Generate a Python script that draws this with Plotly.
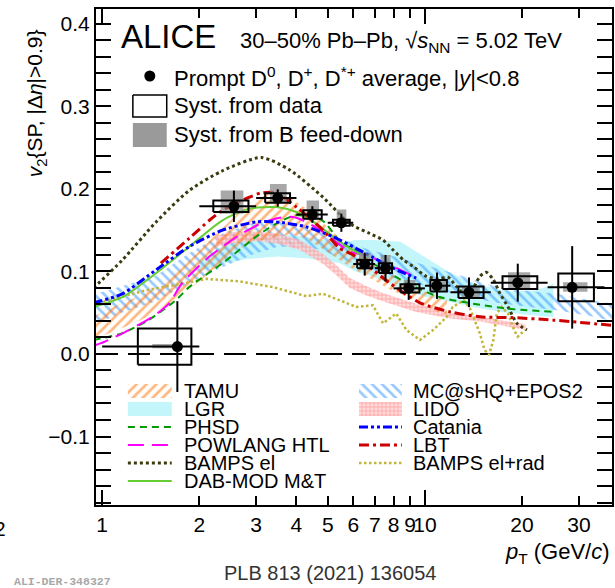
import math
import plotly.graph_objects as go

# ---------------- measured data (ALICE prompt D v2, 30-50%) ----------------
pt = [1.71, 2.56, 3.50, 4.48, 5.51, 6.51, 7.55, 8.91, 10.9, 13.7, 19.4, 28.6]
v2 = [0.009, 0.179, 0.189, 0.169, 0.159, 0.109, 0.104, 0.0795, 0.0827, 0.0747, 0.0864, 0.0807]
stat = [0.055, 0.019, 0.0105, 0.010, 0.011, 0.014, 0.016, 0.014, 0.016, 0.018, 0.023, 0.050]
bin_lo = [1, 2, 3, 4, 5, 6, 7, 8, 10, 12, 16, 24]
bin_hi = [2, 3, 4, 5, 6, 7, 8, 10, 12, 16, 24, 36]
syst = [0.022, 0.007, 0.0057, 0.0052, 0.0036, 0.005, 0.006, 0.005, 0.007, 0.007, 0.0077, 0.0168]
box_lo = [1.29, 2.21, 3.20, 4.20, 5.19, 6.17, 7.20, 8.40, 10.4, 12.7, 17.4, 25.9]
box_hi = [1.89, 2.84, 3.82, 4.79, 5.85, 6.87, 7.91, 9.62, 11.7, 15.2, 22.3, 33.4]
fd_xlo = [1.43, 2.33, 3.31, 4.30, 5.33, 6.25, 7.29, 8.60, 10.5, 13.0, 18.1, 26.8]
fd_xhi = [1.69, 2.74, 3.73, 4.70, 5.71, 6.79, 7.83, 9.35, 11.6, 14.8, 21.2, 31.9]
fd_lo = [0.007, 0.170, 0.183, 0.163, 0.155, 0.104, 0.098, 0.074, 0.077, 0.069, 0.0795, 0.0755]
fd_hi = [0.012, 0.198, 0.206, 0.186, 0.175, 0.122, 0.120, 0.0896, 0.090, 0.082, 0.099, 0.087]

# ---------------- model curves ----------------
tamu_pt = [0.94, 1.1, 1.3, 1.5, 1.75, 2.0, 2.3, 2.6, 2.9, 3.3, 3.8, 4.3, 4.8, 5.4, 6.0, 6.9, 7.8, 8.8, 10.0, 11.1, 11.7]
tamu_hi = [0.045, 0.058, 0.070, 0.082, 0.103, 0.125, 0.148, 0.168, 0.184, 0.196, 0.190, 0.176, 0.160, 0.142, 0.128, 0.110, 0.098, 0.086, 0.076, 0.069, 0.066]
tamu_lo = [0.018, 0.028, 0.040, 0.053, 0.070, 0.088, 0.108, 0.125, 0.135, 0.140, 0.145, 0.140, 0.128, 0.115, 0.103, 0.090, 0.078, 0.069, 0.058, 0.050, 0.048]

lgr_pt = [2.0, 2.3, 2.8, 3.5, 4.3, 5.0, 5.45, 6.1, 6.9, 8.4, 9.9, 12.0, 14.1, 17.9, 22.0, 24.0, 25.0]
lgr_hi = [0.112, 0.128, 0.140, 0.145, 0.142, 0.137, 0.134, 0.138, 0.138, 0.136, 0.118, 0.098, 0.086, 0.076, 0.077, 0.082, 0.085]
lgr_lo = [0.100, 0.108, 0.115, 0.118, 0.116, 0.112, 0.110, 0.100, 0.094, 0.079, 0.070, 0.063, 0.057, 0.050, 0.046, 0.045, 0.045]

mc_pt = [0.94, 1.15, 1.47, 1.86, 2.36, 2.9, 3.5, 4.2, 4.8, 5.5, 6.5, 8.0, 10.4, 13.2, 16.7, 20.0, 25.6, 32.5, 40.0]
mc_hi = [0.072, 0.082, 0.095, 0.122, 0.146, 0.158, 0.160, 0.157, 0.150, 0.140, 0.128, 0.118, 0.106, 0.094, 0.081, 0.077, 0.073, 0.065, 0.060]
mc_lo = [0.035, 0.050, 0.064, 0.086, 0.105, 0.120, 0.130, 0.130, 0.126, 0.115, 0.105, 0.092, 0.081, 0.070, 0.062, 0.058, 0.053, 0.046, 0.038]

lido_pt = [2.25, 2.6, 3.0, 3.5, 4.1, 4.8, 5.3, 5.85, 6.6, 7.4, 9.4, 12.0, 15.0, 20.5]
lido_hi = [0.143, 0.148, 0.148, 0.146, 0.138, 0.122, 0.108, 0.092, 0.082, 0.074, 0.061, 0.050, 0.045, 0.036]
lido_lo = [0.130, 0.135, 0.137, 0.134, 0.126, 0.110, 0.096, 0.080, 0.071, 0.064, 0.051, 0.043, 0.039, 0.029]

phsd_pt = [0.94, 1.15, 1.39, 1.69, 1.86, 2.36, 3.0, 3.46, 4.0, 4.8, 5.5, 6.0, 6.9, 8.8, 11.1, 14.1, 17.9, 25.0]
phsd_v2 = [0.017, 0.025, 0.041, 0.065, 0.081, 0.110, 0.142, 0.158, 0.168, 0.162, 0.135, 0.127, 0.110, 0.086, 0.069, 0.061, 0.055, 0.051]

powlang_pt = [0.94, 1.02, 1.21, 1.43, 1.61, 1.77, 2.15, 2.66, 3.1, 3.55, 3.9, 4.18, 4.83, 5.3, 5.85, 6.5, 7.78, 8.8, 9.5]
powlang_v2 = [0.010, 0.015, 0.029, 0.045, 0.061, 0.086, 0.118, 0.144, 0.158, 0.165, 0.166, 0.162, 0.148, 0.136, 0.124, 0.120, 0.108, 0.098, 0.092]

bel_pt = [0.94, 1.156, 1.47, 1.86, 2.36, 3.11, 3.81, 4.83, 5.85, 6.75, 7.42, 7.97, 8.58, 9.2, 10.1, 11.0, 11.8, 12.5, 13.2, 14.0, 14.8, 15.5, 16.3, 17.1, 18.1, 19.3, 20.7]
bel_v2 = [0.080, 0.114, 0.160, 0.198, 0.222, 0.238, 0.223, 0.190, 0.158, 0.146, 0.138, 0.126, 0.114, 0.106, 0.094, 0.091, 0.093, 0.082, 0.074, 0.078, 0.094, 0.099, 0.090, 0.073, 0.057, 0.037, 0.029]

dab_pt = [0.94, 1.156, 1.47, 1.86, 2.36, 2.86, 3.46, 4.0, 4.6, 5.2, 5.85, 6.4]
dab_v2 = [0.057, 0.069, 0.098, 0.130, 0.162, 0.176, 0.178, 0.172, 0.158, 0.142, 0.128, 0.120]

cat_pt = [0.94, 1.156, 1.47, 1.86, 2.36, 3.0, 3.46, 4.29, 5.2, 6.12, 6.9, 8.38, 9.4]
cat_v2 = [0.062, 0.073, 0.102, 0.130, 0.150, 0.160, 0.160, 0.154, 0.142, 0.128, 0.117, 0.100, 0.092]

lbt_pt = [1.52, 1.86, 2.15, 2.36, 2.86, 3.1, 3.46, 4.0, 4.83, 5.45, 6.0, 6.9, 7.78, 9.65, 12.0, 14.8, 18.8, 25.0, 40.0]
lbt_v2 = [0.110, 0.140, 0.162, 0.174, 0.190, 0.195, 0.195, 0.178, 0.150, 0.128, 0.120, 0.102, 0.086, 0.062, 0.051, 0.045, 0.044, 0.041, 0.034]

belr_pt = [0.94, 1.10, 1.36, 1.81, 2.1, 2.66, 3.38, 4.29, 4.83, 5.45, 6.12, 6.9, 7.42, 8.15, 8.77, 9.65, 10.6, 11.7, 12.2, 13.2, 13.8, 14.8, 15.3, 15.8, 16.3, 16.7, 17.3, 18.1, 18.9, 19.4, 20.4]
belr_v2 = [0.060, 0.067, 0.077, 0.086, 0.091, 0.088, 0.081, 0.070, 0.073, 0.065, 0.057, 0.059, 0.037, 0.049, 0.029, 0.017, 0.029, 0.045, 0.057, 0.065, 0.055, 0.025, 0.005, -0.001, 0.017, 0.049, 0.057, 0.049, 0.029, 0.021, 0.029]

x_ticks = [1, 2, 3, 4, 5, 6, 7, 8, 9, 10, 20, 30]
x_ticktext = ["1", "2", "3", "4", "5", "6", "7", "8", "9", "10", "20", "30"]

# ---------------- geometry ----------------
W, H = 615, 588
ML, MR, MT, MB = 96, 1, 9, 83
PW, PH = W - ML - MR, H - MT - MB
FONT = "Liberation Sans, Arial, Helvetica, sans-serif"


def px(x):
    return (x - ML) / PW


def py(y):
    return (H - MB - y) / PH


fig = go.Figure()

# styles
band_styles = {
    "TAMU": dict(fillcolor="rgba(0,0,0,0)",
                 fillpattern=dict(shape="/", fgcolor="#ff6e00", bgcolor="rgba(0,0,0,0)", size=7, solidity=0.38)),
    "LGR": dict(fillcolor="#c2f6fb"),
    "MC@sHQ+EPOS2": dict(fillcolor="rgba(0,0,0,0)",
                         fillpattern=dict(shape="\\", fgcolor="#2f93ff", bgcolor="rgba(0,0,0,0)", size=7, solidity=0.38)),
    "LIDO": dict(fillcolor="rgba(0,0,0,0)",
                 fillpattern=dict(shape="+", fgcolor="#ff7070", bgcolor="rgba(255,205,205,0.7)", size=4, solidity=0.4)),
}
line_styles = {
    "PHSD": dict(color="#009a00", width=2, dash="7px,5px"),
    "POWLANG HTL": dict(color="#ff00ff", width=2, dash="16px,8px"),
    "BAMPS el": dict(color="#3b3b10", width=3, dash="3px,3px"),
    "DAB-MOD M&T": dict(color="#66cc33", width=2),
    "Catania": dict(color="#0000ff", width=3, dash="9px,3px,3px,3px,3px,3px"),
    "LBT": dict(color="#cc0000", width=3, dash="10px,4px,3px,4px"),
    "BAMPS el+rad": dict(color="#c2b53a", width=2.5, dash="2.5px,2.5px"),
}


def add_band(name, x, lo, hi):
    fig.add_trace(go.Scatter(x=list(x) + list(x)[::-1], y=list(lo) + list(hi)[::-1],
                             fill="toself", mode="lines", line=dict(width=0),
                             hoverinfo="skip", showlegend=False, name=name,
                             **band_styles[name]))


def add_line(name, x, y, shape="spline"):
    fig.add_trace(go.Scatter(x=x, y=y, mode="lines", line=dict(shape=shape, smoothing=0.7, **line_styles[name]),
                             hoverinfo="skip", showlegend=False, name=name))


add_band("LGR", lgr_pt, lgr_lo, lgr_hi)
add_band("MC@sHQ+EPOS2", mc_pt, mc_lo, mc_hi)
add_band("LIDO", lido_pt, lido_lo, lido_hi)
add_band("TAMU", tamu_pt, tamu_lo, tamu_hi)
add_line("BAMPS el+rad", belr_pt, belr_v2, shape="linear")
add_line("BAMPS el", bel_pt, bel_v2)
add_line("PHSD", phsd_pt, phsd_v2)
add_line("POWLANG HTL", powlang_pt, powlang_v2)
add_line("DAB-MOD M&T", dab_pt, dab_v2)
add_line("Catania", cat_pt, cat_v2)
add_line("LBT", lbt_pt, lbt_v2)


def rect_path(x0s, x1s, y0s, y1s):
    xs, ys = [], []
    for a, b, c, d in zip(x0s, x1s, y0s, y1s):
        xs += [a, b, b, a, a, None]
        ys += [c, c, d, d, c, None]
    return xs, ys


# feed-down boxes
fx, fy = rect_path(fd_xlo, fd_xhi, fd_lo, fd_hi)
fig.add_trace(go.Scatter(x=fx, y=fy, mode="lines", fill="toself", fillcolor="rgba(135,135,135,0.72)",
                         line=dict(width=0), hoverinfo="skip", showlegend=False))
# syst from data boxes
sx, sy = rect_path(box_lo, box_hi, [a - b for a, b in zip(v2, syst)], [a + b for a, b in zip(v2, syst)])
fig.add_trace(go.Scatter(x=sx, y=sy, mode="lines", line=dict(color="black", width=2),
                         hoverinfo="skip", showlegend=False))
# points
fig.add_trace(go.Scatter(
    x=pt, y=v2, mode="markers", marker=dict(color="black", size=11),
    error_x=dict(type="data", symmetric=False, array=[h - p for h, p in zip(bin_hi, pt)],
                 arrayminus=[p - l for p, l in zip(pt, bin_lo)], color="black", thickness=2, width=0),
    error_y=dict(type="data", array=stat, color="black", thickness=2, width=0),
    hoverinfo="skip", showlegend=False))

# ---------------- legend / header glyphs on a pixel overlay axis ----------------
def glyph_band(name, x0, x1, yc, h=7):
    fig.add_trace(go.Scatter(x=[x0, x1, x1, x0, x0], y=[yc - h, yc - h, yc + h, yc + h, yc - h],
                             fill="toself", mode="lines", line=dict(width=0), xaxis="x3", yaxis="y3",
                             hoverinfo="skip", showlegend=False, **band_styles[name]))


def glyph_line(name, x0, x1, yc):
    fig.add_trace(go.Scatter(x=[x0, x1], y=[yc, yc], mode="lines", line=line_styles[name],
                             xaxis="x3", yaxis="y3", hoverinfo="skip", showlegend=False))


rows = [391, 409, 427, 445, 463, 481]
left_items = [("TAMU", "band"), ("LGR", "band"), ("PHSD", "line"), ("POWLANG HTL", "line"),
              ("BAMPS el", "line"), ("DAB-MOD M&T", "line")]
right_items = [("MC@sHQ+EPOS2", "band"), ("LIDO", "band"), ("Catania", "line"), ("LBT", "line"),
               ("BAMPS el+rad", "line")]
annotations = []


def text(s, x, y, size=20, xanchor="left", color="black", family=FONT, angle=0):
    annotations.append(dict(text=s, x=px(x), y=py(y), xref="paper", yref="paper", showarrow=False,
                            xanchor=xanchor, yanchor="middle", textangle=angle,
                            font=dict(size=size, color=color, family=family)))


for (name, kind), yc in zip(left_items, rows):
    if kind == "band":
        glyph_band(name, 128, 172, yc)
    else:
        glyph_line(name, 128, 172, yc)
    text(name, 182, yc)
for (name, kind), yc in zip(right_items, rows):
    if kind == "band":
        glyph_band(name, 360, 403, yc)
    else:
        glyph_line(name, 360, 403, yc)
    text(name, 412, yc)

# header glyphs
fig.add_trace(go.Scatter(x=[150], y=[76], mode="markers", marker=dict(color="black", size=11),
                         xaxis="x3", yaxis="y3", hoverinfo="skip", showlegend=False))
fig.add_trace(go.Scatter(x=[133, 167, 167, 133, 133], y=[95, 95, 117, 117, 95], mode="lines",
                         line=dict(color="black", width=1.5), xaxis="x3", yaxis="y3",
                         hoverinfo="skip", showlegend=False))
fig.add_trace(go.Scatter(x=[133, 167, 167, 133, 133], y=[123, 123, 147, 147, 123], mode="lines",
                         fill="toself", fillcolor="#9a9a9a", line=dict(width=0), xaxis="x3", yaxis="y3",
                         hoverinfo="skip", showlegend=False))

text("ALICE", 119, 37, size=33)
text("30\u201350% Pb\u2013Pb, \u221a<i>s</i><sub>NN</sub> = 5.02 TeV", 239, 42, size=22)
text("Prompt D<sup>0</sup>, D<sup>+</sup>, D<sup>*+</sup> average, |<i>y</i>|<0.8", 172, 77, size=22)
text("Syst. from data", 172, 105, size=22)
text("Syst. from B feed-down", 172, 134, size=22)
text("<i>v</i><sub>2</sub>{SP, |\u0394<i>\u03b7</i>|>0.9}", 36, 103, size=21, xanchor="center", angle=-90)
text("<i>p</i><sub>T</sub> (GeV/<i>c</i>)", 614, 553, size=22, xanchor="right")
text("PLB 813 (2021) 136054", 331, 573, size=20, xanchor="center", color="#333333")
text("<b>ALI-DER-348327</b>", 12, 581, size=11.5, color="#a8a8a8", family="Liberation Mono, DejaVu Sans Mono, monospace")
text("2", 8, 528, size=21, xanchor="right")

tickfont = dict(size=21, family=FONT, color="black")
xr = [math.log10(0.957), math.log10(38.0)]
fig.update_layout(
    width=W, height=H, margin=dict(l=ML, r=MR, t=MT, b=MB, pad=0),
    paper_bgcolor="white", plot_bgcolor="white", showlegend=False,
    font=dict(family=FONT, color="black"),
    xaxis=dict(type="log", range=xr, tickmode="array", tickvals=x_ticks, ticktext=x_ticktext, tickangle=0,
               ticks="inside", ticklen=9, tickwidth=1.5, tickcolor="black", showline=True, linewidth=2,
               linecolor="black", mirror="allticks", showgrid=False, zeroline=False, tickfont=tickfont),
    xaxis2=dict(type="log", range=xr, overlaying="x", anchor="y", tickmode="array", tickvals=[1, 10],
                ticks="inside", ticklen=15, tickwidth=1.5, tickcolor="black", showticklabels=False,
                showline=False, mirror="allticks", showgrid=False, zeroline=False),
    yaxis=dict(range=[-0.183, 0.418], tickmode="linear", tick0=0, dtick=0.1, tickformat=".1f",
               ticks="inside", ticklen=15, tickwidth=1.5, tickcolor="black", showline=True, linewidth=2,
               linecolor="black", mirror="allticks", showgrid=False, zeroline=False, tickfont=tickfont,
               minor=dict(tickmode="linear", tick0=0, dtick=0.02, ticks="inside", ticklen=9,
                          tickwidth=1.5, tickcolor="black", showgrid=False)),
    xaxis3=dict(range=[ML, W - MR], overlaying="x", anchor="y3", visible=False, fixedrange=True),
    yaxis3=dict(range=[H - MB, MT], overlaying="y", anchor="x3", visible=False, fixedrange=True),
    shapes=[dict(type="line", xref="paper", x0=0, x1=1, yref="y", y0=0, y1=0, layer="below",
                 line=dict(color="black", width=2, dash="22px,10px"))],
    annotations=annotations,
)
fig.add_trace(go.Scatter(x=[1], y=[0], xaxis="x2", yaxis="y", mode="markers",
                         marker=dict(opacity=0), hoverinfo="skip", showlegend=False))

fig.write_html("out.html")
